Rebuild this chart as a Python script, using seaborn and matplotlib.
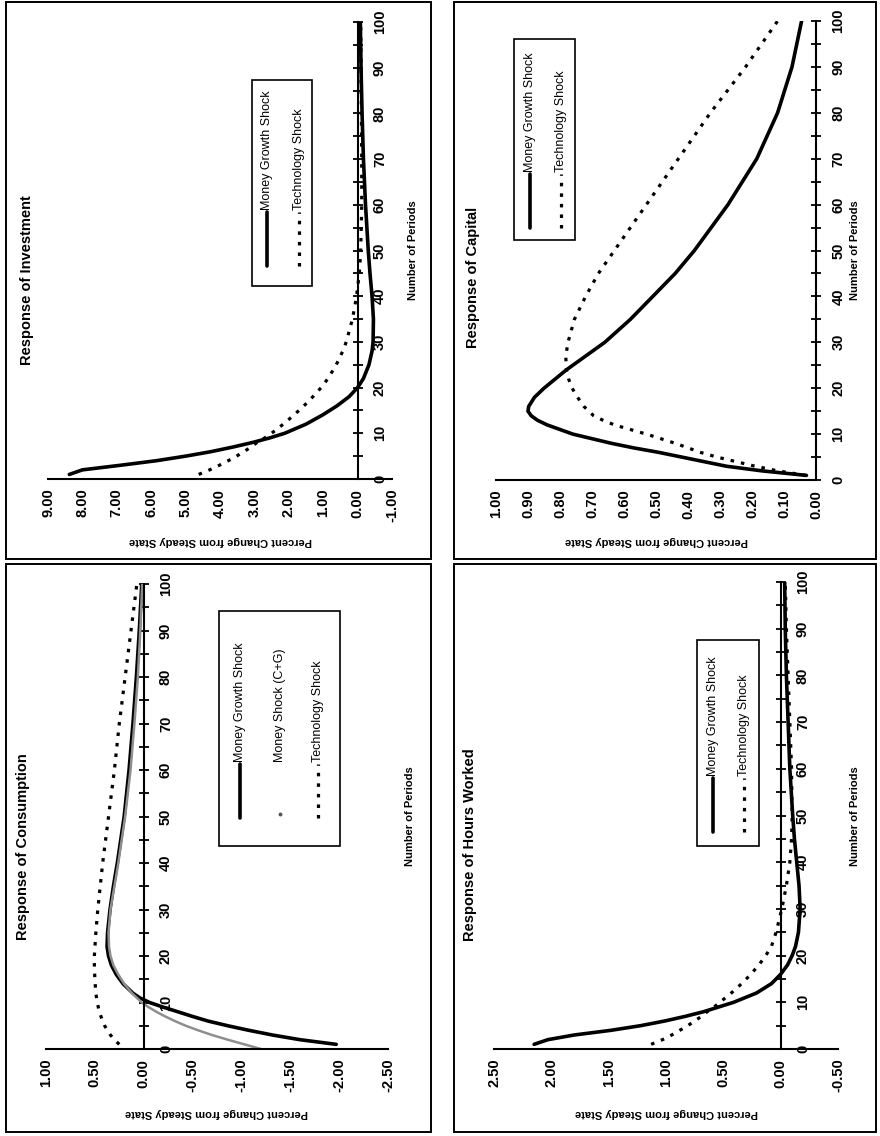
import matplotlib
matplotlib.use("Agg")
import matplotlib.pyplot as plt
import seaborn as sns
from matplotlib.patches import Rectangle
from matplotlib.lines import Line2D

# ---------------------------------------------------------------- data
PERIOD_TICKS = [0, 10, 20, 30, 40, 50, 60, 70, 80, 90, 100]
PERIOD_MINOR = [5, 15, 25, 35, 45, 55, 65, 75, 85, 95]

# Response of Investment
INV_TICKS = [9, 8, 7, 6, 5, 4, 3, 2, 1, 0, -1]
INV_PERIODS = [1, 2, 3, 4, 5, 6, 7, 8, 9, 10, 12, 14, 16, 18, 20, 22, 25, 28,
               30, 35, 40, 45, 50, 60, 70, 80, 90, 100]
INV_MONEY = [8.38, 8.00, 6.90, 5.85, 5.00, 4.25, 3.62, 3.05, 2.55, 2.12, 1.50,
             1.02, 0.60, 0.25, 0.00, -0.17, -0.33, -0.42, -0.45, -0.46, -0.42,
             -0.36, -0.31, -0.23, -0.17, -0.13, -0.10, -0.08]
INV_TECH = [4.62, 4.30, 4.02, 3.76, 3.52, 3.30, 3.10, 2.92, 2.70, 2.50, 2.16,
            1.85, 1.56, 1.30, 1.06, 0.86, 0.62, 0.43, 0.33, 0.15, 0.03, -0.05,
            -0.09, -0.12, -0.12, -0.11, -0.10, -0.09]

# Response of Capital
CAP_TICKS = [1.0, 0.9, 0.8, 0.7, 0.6, 0.5, 0.4, 0.3, 0.2, 0.1, 0.0]
CAP_PERIODS = [1, 2, 3, 4, 5, 6, 7, 8, 9, 10, 11, 12, 13, 14, 15, 16, 18, 20,
               22, 24, 27, 30, 35, 40, 45, 50, 60, 70, 80, 90, 100]
CAP_MONEY = [0.03, 0.17, 0.28, 0.35, 0.42, 0.49, 0.57, 0.64, 0.70, 0.76, 0.80,
             0.84, 0.87, 0.89, 0.90, 0.898, 0.88, 0.85, 0.815, 0.78, 0.72,
             0.66, 0.58, 0.51, 0.44, 0.38, 0.275, 0.185, 0.12, 0.075, 0.045]
CAP_TECH = [0.03, 0.12, 0.19, 0.25, 0.31, 0.36, 0.40, 0.44, 0.485, 0.53, 0.58,
            0.63, 0.665, 0.695, 0.71, 0.725, 0.745, 0.762, 0.773, 0.78, 0.782,
            0.775, 0.755, 0.72, 0.68, 0.63, 0.53, 0.43, 0.33, 0.22, 0.12]

# Response of Consumption
CON_TICKS = [1.0, 0.5, 0.0, -0.5, -1.0, -1.5, -2.0, -2.5]
CON_MONEY_PERIODS = [1, 2, 3, 4, 5, 6, 7, 8, 9, 10, 11, 12, 14, 16, 18, 20, 22,
                     25, 30, 35, 40, 45, 50, 60, 70, 80, 90, 100]
CON_MONEY = [-1.97, -1.60, -1.32, -1.08, -0.86, -0.66, -0.50, -0.35, -0.20,
             -0.06, 0.04, 0.11, 0.21, 0.28, 0.33, 0.36, 0.375, 0.37, 0.345,
             0.31, 0.27, 0.235, 0.20, 0.15, 0.11, 0.075, 0.045, 0.02]
CON_CG_PERIODS = [0, 1, 2, 3, 4, 5, 6, 7, 8, 9, 10, 12, 14, 16, 18, 20, 22, 25,
                  30, 35, 40, 45, 50, 60, 70, 80, 90, 100]
CON_CG = [-1.20, -1.03, -0.86, -0.70, -0.56, -0.43, -0.32, -0.22, -0.13, -0.05,
          0.02, 0.12, 0.20, 0.26, 0.31, 0.34, 0.355, 0.36, 0.34, 0.30, 0.26,
          0.225, 0.19, 0.135, 0.095, 0.06, 0.035, 0.015]
CON_TECH_PERIODS = [1, 2, 3, 4, 5, 6, 8, 10, 12, 15, 18, 20, 25, 30, 35, 40,
                    50, 60, 70, 80, 90, 100]
CON_TECH = [0.25, 0.30, 0.34, 0.37, 0.40, 0.42, 0.455, 0.475, 0.49, 0.50,
            0.505, 0.505, 0.49, 0.47, 0.445, 0.42, 0.36, 0.30, 0.25, 0.19,
            0.13, 0.07]

# Response of Hours Worked
HRS_TICKS = [2.5, 2.0, 1.5, 1.0, 0.5, 0.0, -0.5]
HRS_PERIODS = [1, 2, 3, 4, 5, 6, 7, 8, 9, 10, 12, 14, 16, 18, 20, 22, 25, 30,
               35, 40, 45, 50, 60, 70, 80, 90, 100]
HRS_MONEY = [2.15, 2.03, 1.80, 1.48, 1.22, 1.01, 0.83, 0.67, 0.54, 0.41, 0.21,
             0.08, 0.00, -0.06, -0.10, -0.13, -0.155, -0.17, -0.16, -0.14,
             -0.12, -0.105, -0.08, -0.065, -0.05, -0.04, -0.035]
HRS_TECH = [1.13, 1.03, 0.95, 0.88, 0.81, 0.75, 0.69, 0.64, 0.58, 0.53, 0.43,
            0.34, 0.26, 0.19, 0.13, 0.08, 0.04, -0.01, -0.05, -0.08, -0.095,
            -0.10, -0.095, -0.08, -0.065, -0.05, -0.04]

MONEY = "Money Growth Shock"
MONEY_CG = "Money Shock (C+G)"
TECH = "Technology Shock"

# ---------------------------------------------------------------- styling
sns.set_theme(style="white")
plt.rcParams["font.family"] = ["Liberation Sans", "DejaVu Sans"]
plt.rcParams["text.color"] = "black"
plt.rcParams["axes.labelcolor"] = "black"
plt.rcParams["xtick.color"] = "black"
plt.rcParams["ytick.color"] = "black"

W, H = 880, 1136
DOTS = (0, (1.1, 2.2))
STYLE = {
    MONEY: dict(color="black", linewidth=2.6, linestyle="-",
                solid_joinstyle="round", solid_capstyle="round"),
    MONEY_CG: dict(color="#8e8e8e", linewidth=1.8, linestyle="-",
                   solid_joinstyle="round"),
    TECH: dict(color="black", linewidth=2.3, linestyle=DOTS),
}


def fx(px):
    return px / W


def fy(py):
    return 1 - py / H


fig = plt.figure(figsize=(W / 100, H / 100), dpi=100)
fig.patch.set_facecolor("white")

PANELS = [
    dict(title="Response of Investment", frame=(6, 2, 431, 559),
         x_left=48, x_right=392, y_zero=479, y_top=22, ticks=INV_TICKS,
         series=[(MONEY, INV_PERIODS, INV_MONEY), (TECH, INV_PERIODS, INV_TECH)],
         title_xy=(27, 280), periods_xy=(413, 250), pcs_y=541,
         legend_box=(252, 80, 312, 286),
         legend=[(MONEY, 267, 266), (TECH, 299, 266)]),
    dict(title="Response of Capital", frame=(454, 2, 876, 559),
         x_left=496, x_right=816, y_zero=480, y_top=21, ticks=CAP_TICKS,
         series=[(MONEY, CAP_PERIODS, CAP_MONEY), (TECH, CAP_PERIODS, CAP_TECH)],
         title_xy=(473, 277), periods_xy=(855, 250), pcs_y=541,
         legend_box=(514, 39, 575, 240),
         legend=[(MONEY, 530, 228), (TECH, 561, 228)]),
    dict(title="Response of Consumption", frame=(6, 564, 431, 1132),
         x_left=46, x_right=388, y_zero=1049, y_top=584, ticks=CON_TICKS,
         series=[(MONEY, CON_MONEY_PERIODS, CON_MONEY),
                 (TECH, CON_TECH_PERIODS, CON_TECH),
                 (MONEY_CG, CON_CG_PERIODS, CON_CG)],
         title_xy=(23, 847), periods_xy=(410, 816), pcs_y=1113,
         legend_box=(219, 611, 340, 846),
         legend=[(MONEY, 240, 818), (MONEY_CG, 280, 818), (TECH, 318, 818)]),
    dict(title="Response of Hours Worked", frame=(454, 564, 876, 1132),
         x_left=494, x_right=838, y_zero=1049, y_top=582, ticks=HRS_TICKS,
         series=[(MONEY, HRS_PERIODS, HRS_MONEY), (TECH, HRS_PERIODS, HRS_TECH)],
         title_xy=(470, 845), periods_xy=(855, 816), pcs_y=1113,
         legend_box=(697, 640, 759, 846),
         legend=[(MONEY, 713, 832), (TECH, 744, 832)]),
]

SAMPLE_LEN = 54

for p in PANELS:
    # panel frame
    x0, y0, x1, y1 = p["frame"]
    fig.add_artist(Rectangle((fx(x0), fy(y1)), (x1 - x0) / W, (y1 - y0) / H,
                             transform=fig.transFigure, fill=False,
                             edgecolor="black", linewidth=1.4))

    # plot area: values run right-to-left, periods bottom-to-top
    ax = fig.add_axes([fx(p["x_left"]), fy(p["y_zero"]),
                       (p["x_right"] - p["x_left"]) / W,
                       (p["y_zero"] - p["y_top"]) / H])
    ax.patch.set_visible(False)
    ticks = p["ticks"]
    ax.set_xlim(max(ticks), min(ticks))
    ax.set_ylim(0, 100)

    for name, periods, values in p["series"]:
        sns.lineplot(x=values, y=periods, orient="y", sort=False,
                     estimator=None, ax=ax, **STYLE[name])

    ax.grid(False)
    ax.spines["top"].set_visible(False)
    ax.spines["left"].set_visible(False)
    ax.spines["right"].set_position(("data", 0))
    for s in ("right", "bottom"):
        ax.spines[s].set_linewidth(1.5)
        ax.spines[s].set_color("black")

    ax.set_xticks(ticks)
    ax.set_xticklabels([f"{t + 0.0:.2f}" for t in ticks], rotation=90,
                       fontweight="bold")
    ax.tick_params(axis="x", direction="inout", length=7, width=1.3,
                   labelsize=10.5, pad=3.5, colors="black")

    ax.yaxis.tick_right()
    ax.set_yticks(PERIOD_TICKS)
    ax.set_yticks(PERIOD_MINOR, minor=True)
    ax.set_yticklabels([str(t) for t in PERIOD_TICKS], rotation=90,
                       va="center", ha="left", fontweight="bold")
    ax.tick_params(axis="y", which="both", direction="inout", length=7,
                   width=1.3, labelsize=10.5, pad=7.5, colors="black")
    ax.set_xlabel("")
    ax.set_ylabel("")

    # titles and axis captions
    tx, ty = p["title_xy"]
    fig.text(fx(tx), fy(ty), p["title"], rotation=90, ha="center",
             va="center", fontsize=10.5, fontweight="bold")
    nx, ny = p["periods_xy"]
    fig.text(fx(nx), fy(ny), "Number of Periods", rotation=90, ha="center",
             va="center", fontsize=8, fontweight="bold")
    fig.text(fx((p["x_left"] + p["x_right"]) / 2), fy(p["pcs_y"]),
             "Percent Change from Steady State", rotation=180, ha="center",
             va="center", fontsize=8, fontweight="bold")

    # legend box with rotated entries
    lx0, ly0, lx1, ly1 = p["legend_box"]
    fig.add_artist(Rectangle((fx(lx0), fy(ly1)), (lx1 - lx0) / W,
                             (ly1 - ly0) / H, transform=fig.transFigure,
                             facecolor="white", edgecolor="black",
                             linewidth=1.2))
    for name, ex, ey in p["legend"]:
        if name == MONEY_CG:
            fig.add_artist(Line2D([fx(ex)], [fy(ey - 4)], marker="o",
                                  markersize=1.8, color="#555555",
                                  transform=fig.transFigure))
        else:
            fig.add_artist(Line2D([fx(ex), fx(ex)],
                                  [fy(ey), fy(ey - SAMPLE_LEN)],
                                  transform=fig.transFigure, **STYLE[name]))
        fig.text(fx(ex), fy(ey - SAMPLE_LEN - 2), name, rotation=90,
                 ha="center", va="bottom", fontsize=9)

fig.savefig("out.png", dpi=100, facecolor="white")
